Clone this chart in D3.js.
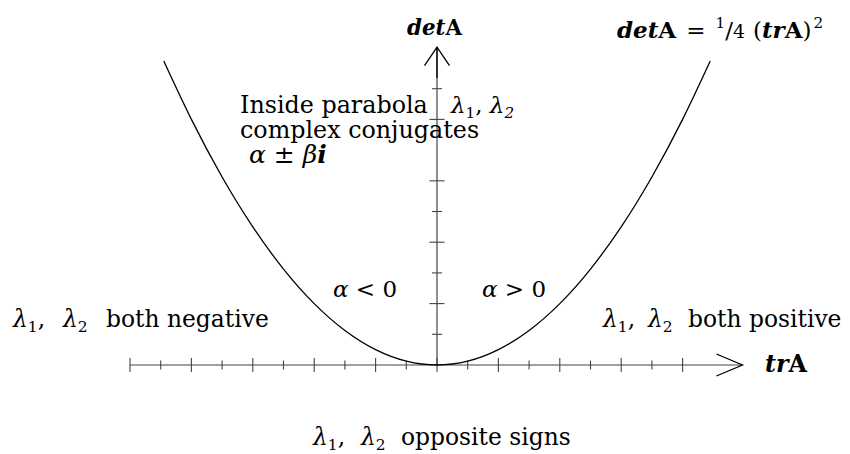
<!DOCTYPE html>
<html>
<head>
<meta charset="utf-8">
<script src="https://cdn.jsdelivr.net/npm/d3@7"></script>
<style>
  body { margin: 0; background: #fff; }
  svg { display: block; }
  text { font-family: "DejaVu Serif", "Liberation Serif", serif; fill: #000; }
</style>
</head>
<body>
<svg id="chart" width="850" height="454"></svg>
<script>
// Trace-determinant plane: tick positions on each axis
const trTicks = [-10, -9, -8, -7, -6, -5, -4, -3, -2, -1, 0, 1, 2, 3, 4, 5, 6, 7, 8];
const detTicks = [2, 4, 6, 8, 10, 12, 16, 18];

// Boundary curve detA = 1/4 (trA)^2 sampled at these traces
const curveTr  = [-8.9, -8, -7, -6, -5, -4, -3, -2, -1, 0, 1, 2, 3, 4, 5, 6, 7, 8, 8.9];
const curveDet = [19.8025, 16, 12.25, 9, 6.25, 4, 2.25, 1, 0.25, 0, 0.25, 1, 2.25, 4, 6.25, 9, 12.25, 16, 19.8025];

const W = 850, H = 454;
const svg = d3.select("#chart");
svg.append("rect").attr("width", W).attr("height", H).attr("fill", "#fff");

const x = d3.scaleLinear().domain([-10, 10]).range([130, 744]);
const y = d3.scaleLinear().domain([0, 20]).range([365, 58]);

const axisColor = "#444";

// horizontal axis (trA)
const gx = svg.append("g");
gx.append("line")
  .attr("x1", x(-10)).attr("x2", x(9.95))
  .attr("y1", y(0)).attr("y2", y(0))
  .attr("stroke", axisColor).attr("stroke-width", 1.2);
gx.selectAll("line.tick").data(trTicks).join("line")
  .attr("class", "tick")
  .attr("x1", d => x(d)).attr("x2", d => x(d))
  .attr("y1", d => y(0) - (d % 2 === 0 ? 7 : 4.5))
  .attr("y2", d => y(0) + (d % 2 === 0 ? 7 : 4.5))
  .attr("stroke", axisColor).attr("stroke-width", 1.1);
// arrow head on trA
gx.append("path")
  .attr("d", `M${x(9.1)},${y(0) - 11}L${x(9.95)},${y(0)}L${x(9.1)},${y(0) + 11}`)
  .attr("fill", "none").attr("stroke", "#000").attr("stroke-width", 1.3);

// vertical axis (detA)
const gy = svg.append("g");
gy.append("line")
  .attr("x1", x(0)).attr("x2", x(0))
  .attr("y1", y(0)).attr("y2", y(20.7))
  .attr("stroke", axisColor).attr("stroke-width", 1.2);
gy.append("line")
  .attr("x1", x(0)).attr("x2", x(0))
  .attr("y1", y(18.7)).attr("y2", y(20.7))
  .attr("stroke", "#000").attr("stroke-width", 1.3);
gy.selectAll("line.tick").data(detTicks).join("line")
  .attr("class", "tick")
  .attr("x1", d => x(0) - (d % 4 === 0 ? 7.5 : 5))
  .attr("x2", d => x(0) + (d % 4 === 0 ? 7.5 : 5))
  .attr("y1", d => y(d)).attr("y2", d => y(d))
  .attr("stroke", axisColor).attr("stroke-width", 1.1);
// arrow head on detA
gy.append("path")
  .attr("d", `M${x(0) - 12.5},${y(19.5)}L${x(0)},${y(20.7)}L${x(0) + 12.5},${y(19.5)}`)
  .attr("fill", "none").attr("stroke", "#000").attr("stroke-width", 1.3);

// parabola detA = (trA)^2 / 4
const pts = curveTr.map((t, i) => [t, curveDet[i]]);
svg.append("path")
  .datum(pts)
  .attr("d", d3.line().x(d => x(d[0])).y(d => y(d[1])).curve(d3.curveNatural))
  .attr("fill", "none").attr("stroke", "#000").attr("stroke-width", 1.3);

// rich text helper: parts are [string, flags, absoluteX, extraGap]
function build(px, py, size, parts) {
  const t = svg.append("text").attr("x", px).attr("y", py).attr("font-size", size);
  let shift = 0;
  parts.forEach(([s, f = "", ax, gap]) => {
    const sp = t.append("tspan").text(s);
    let target = 0;
    if (f.includes("i")) sp.attr("font-style", "italic");
    if (f.includes("b")) sp.attr("font-weight", "bold");
    if (f.includes("_")) { sp.attr("font-size", size * 0.66); target = size * 0.2; }
    if (f.includes("^")) { sp.attr("font-size", size * 0.66); target = -size * 0.42; }
    if (f.includes("s")) { sp.attr("font-size", size * 0.82); }
    if (ax !== undefined && ax !== null) sp.attr("x", ax);
    if (gap) sp.attr("dx", gap);
    sp.attr("dy", target - shift);
    shift = target;
  });
  return t;
}
function rich(px, py, size, parts, fit) {
  let t = build(px, py, size, parts);
  if (fit) {
    const w = t.node().getComputedTextLength();
    t.remove();
    t = build(px, py, size * fit / w, parts);
  }
  return t;
}

rich(407, 35, 21, [["det", "bi"], ["A", "b"]], 55);
rich(617, 38, 23, [["det", "bi"], ["A", "b"], ["="], ["1", "^", null, 1], ["/"], ["4", "s"], ["(", "", null, 8], ["tr", "bi"], ["A", "b"], [")"], ["2", "^", null, 2]].map(p => {
  // spacing around the equals sign
  if (p[0] === "=") return ["=", "", null, 10];
  if (p[0] === "1") return ["1", "^", null, 10];
  return p;
}));

const fs = 23.8;
rich(240, 113, fs, [["Inside parabola"]]);
rich(451, 113, 23, [["λ", "i"], ["1", "_"], [", "], ["λ", "i"], ["2", "_i"]]);
rich(240, 138, fs, [["complex conjugates"]]);
rich(249, 163, 25, [["α", "i"], [" ± "], ["β", "i"], ["i", "bi"]]);
rich(333, 297, 23, [["α", "i"], [" < 0"]]);
rich(482, 297, 23, [["α", "i"], [" > 0"]]);

const rs = 23.4;
rich(13, 327, rs, [["λ", "i"], ["1", "_"], [","], ["λ", "i", 63], ["2", "_"], ["both negative", "", 106]]);
rich(603, 327, rs, [["λ", "i"], ["1", "_"], [","], ["λ", "i", 648], ["2", "_"], ["both positive", "", 688]]);
rich(313, 445, rs, [["λ", "i"], ["1", "_"], [","], ["λ", "i", 361], ["2", "_"], ["opposite signs", "", 401]]);

rich(765, 372, 22, [["tr", "bi"], ["A", "b"]], 42);
</script>
</body>
</html>
